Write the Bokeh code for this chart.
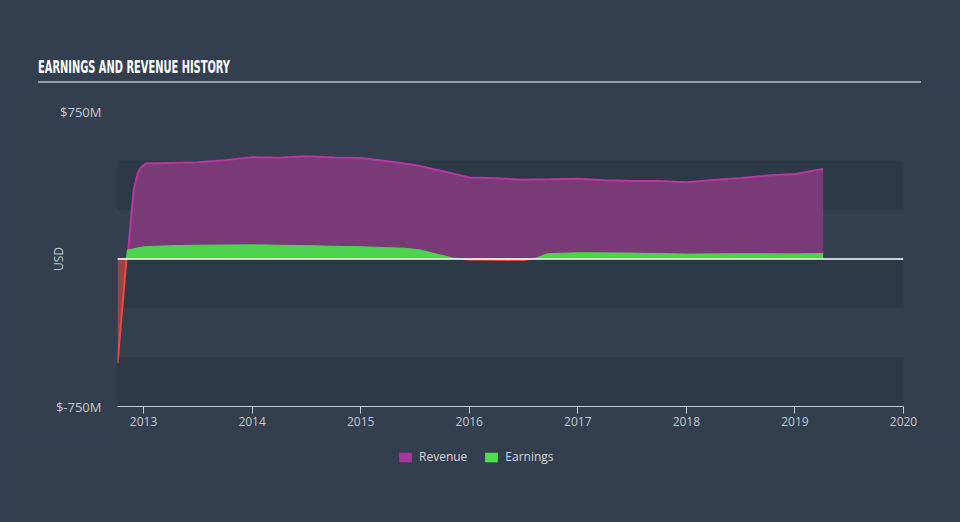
import numpy as np
from bokeh.plotting import figure
from bokeh.layouts import column
from bokeh.models import Range1d, FixedTicker, Span, BoxAnnotation, Legend, LegendItem, Div
from bokeh.embed import file_html
from bokeh.resources import INLINE

# ---- data (USD millions, fractional years) ----
rev_years = [2012.76, 2012.852, 2012.88, 2012.908, 2012.945, 2012.973, 2013.02, 2013.5, 2013.75,
             2014.0, 2014.25, 2014.5, 2014.75, 2015.0, 2015.25, 2015.5, 2015.75,
             2016.0, 2016.25, 2016.5, 2016.75, 2017.0, 2017.25, 2017.5, 2017.75,
             2018.0, 2018.25, 2018.5, 2018.75, 2019.0, 2019.26]
revenue = [0, 0, 178, 347, 434, 464, 485, 492, 502,
           518, 515, 522, 516, 513, 497, 478, 447,
           415, 410, 403, 405, 408, 401, 397, 396,
           390, 402, 412, 424, 432, 458]

earn_years = [2012.76, 2012.85, 2013.0, 2013.25, 2013.5, 2014.0, 2014.5, 2015.0,
              2015.4, 2015.55, 2015.7, 2015.85, 2016.0, 2016.5, 2016.62, 2016.72,
              2017.0, 2017.5, 2018.0, 2018.5, 2019.0, 2019.26]
earnings = [-530, 45, 62, 68, 70, 72, 68, 62,
            55, 46, 25, 5, -3, -5, 5, 27,
            32, 30, 25, 27, 26, 28]

x_ticks = [2013, 2014, 2015, 2016, 2017, 2018, 2019, 2020]
y_ticks = [-750, 750]
y_tick_labels = {750: "$750M", -750: "$-750M"}
bands = [(-750, -500), (-250, 0), (250, 500)]
series_names = ["Revenue", "Earnings"]

title_text = "EARNINGS AND REVENUE HISTORY"
y_label = "USD"

BG = "#333f4f"
BAND = "#2d3947"
TXT = "#c3c9d0"
PURPLE_FILL = "#7a3a78"
PURPLE_LINE = "#b8389e"
PURPLE_KEY = "#a3379b"
GREEN = "#4ed34e"
GREEN_KEY = "#50de50"
RED_FILL = "#a84646"
RED_LINE = "#f0483e"
TITLE_FONT = "'DejaVu Sans Condensed', 'Liberation Sans Narrow', Roboto, sans-serif"

# split earnings into positive and negative parts
px, pos, neg = [], [], []
for i in range(len(earn_years)):
    if i > 0 and earnings[i - 1] * earnings[i] < 0:
        t = earnings[i - 1] / (earnings[i - 1] - earnings[i])
        xc = earn_years[i - 1] + t * (earn_years[i] - earn_years[i - 1])
        px.append(xc); pos.append(0.0); neg.append(0.0)
    px.append(earn_years[i]); pos.append(max(earnings[i], 0)); neg.append(min(earnings[i], 0))
neg_line = []
for i, v in enumerate(neg):
    keep = v < 0 or (i > 0 and neg[i - 1] < 0) or (i < len(neg) - 1 and neg[i + 1] < 0)
    neg_line.append(v if keep else np.nan)

header = Div(
    text=(f'<div style="position:absolute;left:38px;top:57px;width:883px;height:26px;'
          f'border-bottom:2px solid #97a0ab;">'
          f'<span style="display:inline-block;transform:scaleX(0.61);transform-origin:0 0;'
          f'white-space:nowrap;color:#ffffff;font-family:{TITLE_FONT};font-weight:bold;'
          f'font-size:18px;line-height:20px;">{title_text}</span></div>'),
    width=960, height=85, margin=0,
    styles={"background-color": BG, "position": "relative"})

p = figure(width=960, height=351,
           x_range=Range1d(2012.76, 2020.0), y_range=Range1d(-750, 750),
           output_backend="svg", toolbar_location=None, margin=0,
           min_border_left=117, min_border_right=57, min_border_top=26, min_border_bottom=30,
           background_fill_color=BG, border_fill_color=BG, outline_line_color=None,
           styles={"background-color": BG})

for b0, b1 in bands:
    p.add_layout(BoxAnnotation(bottom=b0, top=b1, fill_color=BAND, fill_alpha=1,
                               line_color=None, level="underlay"))

p.varea(x=rev_years, y1=0, y2=revenue, fill_color=PURPLE_FILL, fill_alpha=1)
p.line(rev_years, revenue, line_color=PURPLE_LINE, line_width=2)
p.varea(x=px, y1=0, y2=pos, fill_color=GREEN, fill_alpha=1)
p.line(px, pos, line_color=GREEN, line_width=1)
p.varea(x=px, y1=0, y2=neg, fill_color=RED_FILL, fill_alpha=0.85)
p.line(px, neg_line, line_color=RED_LINE, line_width=2)

p.add_layout(Span(location=0, dimension="width", line_color="white", line_width=1.5))

p.xgrid.visible = False
p.ygrid.visible = False

xa = p.xaxis[0]
xa.ticker = FixedTicker(ticks=x_ticks)
xa.axis_line_color = "#c5ccd6"
xa.major_tick_line_color = "#c5ccd6"
xa.major_tick_out = 7
xa.major_tick_in = 0
xa.minor_tick_line_color = None
xa.major_label_text_color = TXT
xa.major_label_text_font = "Open Sans"
xa.major_label_text_font_size = "12px"
xa.major_label_standoff = 3

ya = p.yaxis[0]
ya.ticker = FixedTicker(ticks=y_ticks)
ya.major_label_overrides = y_tick_labels
ya.axis_line_color = None
ya.major_tick_line_color = None
ya.minor_tick_line_color = None
ya.major_label_text_color = TXT
ya.major_label_text_font = "Open Sans"
ya.major_label_text_font_size = "13px"
ya.major_label_standoff = 10
ya.axis_label = y_label
ya.axis_label_text_color = TXT
ya.axis_label_text_font = "Open Sans"
ya.axis_label_text_font_size = "12px"
ya.axis_label_text_font_style = "normal"
ya.axis_label_standoff = -14

# legend strip below the chart (key renderers lie outside this strip's view)
leg_fig = figure(width=960, height=86, output_backend="svg", toolbar_location=None,
                 margin=0, min_border=0, x_axis_type=None, y_axis_type=None,
                 x_range=Range1d(0, 1), y_range=Range1d(0, 1),
                 background_fill_color=BG, border_fill_color=BG, outline_line_color=None,
                 styles={"background-color": BG})
leg_fig.xgrid.visible = False
leg_fig.ygrid.visible = False
key_rev = leg_fig.varea(x=rev_years, y1=0, y2=revenue, fill_color=PURPLE_KEY)
key_earn = leg_fig.varea(x=px, y1=0, y2=pos, fill_color=GREEN_KEY)
legend = Legend(items=[LegendItem(label=series_names[0], renderers=[key_rev]),
                       LegendItem(label=series_names[1], renderers=[key_earn])],
                orientation="horizontal", location=(280, 57),
                background_fill_alpha=0, border_line_color=None,
                label_text_color="#d3d7dc", label_text_font="Open Sans",
                label_text_font_size="12px", glyph_width=16, glyph_height=12,
                spacing=16, label_standoff=6, margin=0, padding=6)
leg_fig.add_layout(legend)

layout = column(header, p, leg_fig, spacing=0, margin=0, styles={"background-color": BG})
open("out.html", "w").write(file_html(layout, INLINE))
